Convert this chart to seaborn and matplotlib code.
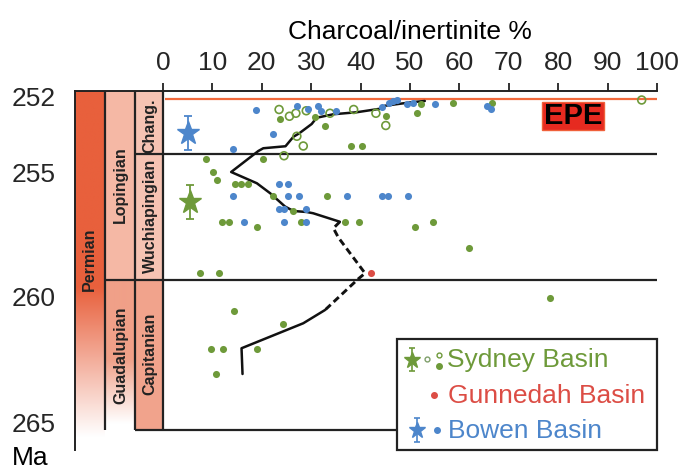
import numpy as np
import matplotlib
matplotlib.use("Agg")
import matplotlib.pyplot as plt
from matplotlib.patches import Rectangle
from matplotlib.colors import to_rgb
import seaborn as sns

# ---------------- data ----------------
x_ticks = [0, 10, 20, 30, 40, 50, 60, 70, 80, 90, 100]
age_major = [252, 255, 260, 265]
age_minor = [253, 254, 256, 257, 258, 259, 261, 262, 263, 264, 266]

sydney_pct = [23.6, 30.8, 32.7, 45.1, 51.5, 52.2, 58.8, 66.5, 38.1, 40.2,
              8.8, 20.2, 10.1, 10.9, 14.5, 15.8, 17.3, 22.2, 33.3, 26.4, 12.0,
              13.3, 19.0, 28.0, 36.8, 39.7, 51.0, 54.7, 62.0, 7.5, 11.3,
              14.4, 24.2, 9.7, 12.1, 19.1, 10.7, 78.3]
sydney_age = [252.87, 252.78, 253.17, 252.77, 252.65, 252.27, 252.25, 252.24, 253.97, 253.97,
              254.48, 254.48, 254.99, 255.30, 255.48, 255.48, 255.48, 255.97, 255.97, 256.57, 256.99,
              256.99, 257.21, 256.99, 256.99, 256.99, 257.21, 256.99, 258.03, 259.05, 259.05,
              260.56, 261.08, 262.08, 262.08, 262.08, 263.08, 260.05]

sydney_open_pct = [23.5, 25.6, 26.9, 29.0, 33.8, 38.6, 43.1, 45.1, 27.1, 28.4, 24.5, 96.9]
sydney_open_age = [252.50, 252.77, 252.65, 252.55, 252.65, 252.50, 252.65, 253.14, 253.57, 253.96, 254.35, 252.12]

bowen_pct = [18.8, 27.1, 29.4, 31.4, 32.0, 35.1, 44.4, 45.7, 46.6, 47.4, 49.3, 50.6, 55.1, 65.6, 66.3, 22.2, 14.2,
             23.4, 25.4, 14.1, 25.4, 27.6, 37.3, 44.3, 45.6, 49.5, 23.5, 24.4, 29.0, 16.3, 24.4, 29.0]
bowen_age = [252.52, 252.35, 252.46, 252.36, 252.55, 252.57, 252.39, 252.24, 252.14, 252.13, 252.26, 252.25, 252.27, 252.36, 252.48, 253.46, 254.06,
             255.48, 255.48, 255.97, 255.97, 255.97, 255.97, 255.97, 255.97, 255.97, 256.49, 256.49, 256.48, 256.99, 256.99, 256.99]

gunnedah_pct = [42.1]
gunnedah_age = [259.05]

sydney_mean_pct = [5.5]
sydney_mean_age = [256.19]
sydney_mean_err = [0.68]
bowen_mean_pct = [5.1]
bowen_mean_age = [253.45]
bowen_mean_err = [0.68]

mean_upper_pct = [53.0, 50.3, 44.9, 44.6, 39.2, 34.5, 31.1, 30.1, 27.6, 26.4, 24.8, 20.3, 19.3,
                  13.8, 19.0, 21.7, 24.7, 26.4, 29.1, 30.4, 35.8]
mean_upper_age = [252.16, 252.21, 252.35, 252.45, 252.61, 252.69, 252.83, 253.08, 253.45, 253.59, 253.97, 254.05, 254.16,
                  255.00, 255.45, 255.85, 256.38, 256.56, 256.60, 256.65, 256.99]
mean_dashed_pct = [35.8, 34.5, 35.5, 40.9, 39.5, 32.8]
mean_dashed_age = [256.99, 257.25, 257.62, 259.05, 259.28, 260.52]
mean_lower_pct = [32.8, 28.4, 15.9, 16.1]
mean_lower_age = [260.52, 261.05, 262.05, 263.08]

epe_age = 252.09
chang_base = 254.26
wuch_base = 259.32
column_base = 265.32
age_top = 251.76
age_bottom = 266.12

# ---------------- style ----------------
GREEN = "#6e9a3a"
BLUE = "#4d86cb"
RED = "#dc4d45"
DARK = "#222222"

sns.set_style("white")
plt.rcParams["font.family"] = ["Liberation Sans", "DejaVu Sans"]

W, H = 680, 471
fig = plt.figure(figsize=(W / 100, H / 100), dpi=100)
fig.patch.set_facecolor("white")
ax = fig.add_axes([75 / W, 1 - 450 / H, 582 / W, 359 / H])

X0, X1, X2 = -17.81, -11.74, -5.67   # stratigraphic column edges (x units)

# stratigraphic columns
def vgrad(c0, y_start, y_end, n=300):
    ys = np.linspace(age_top, age_bottom, n)
    t = np.clip((ys - y_start) / (y_end - y_start), 0, 1)
    c0 = np.array(to_rgb(c0))
    cols = c0[None, :] * (1 - t[:, None]) + np.ones(3)[None, :] * t[:, None]
    return cols[:, None, :]

ax.imshow(vgrad("#e8603c", 259.6, 265.6), extent=(X0, X1, age_bottom, age_top),
          origin="upper", aspect="auto", interpolation="bilinear", zorder=0)
ax.add_patch(Rectangle((X1, age_top), X2 - X1, wuch_base - age_top, color="#f5b8a5", lw=0, zorder=0))
ax.imshow(vgrad("#f0a088", wuch_base, 265.5), extent=(X1, X2, column_base, wuch_base),
          origin="upper", aspect="auto", interpolation="bilinear", zorder=0)
ax.add_patch(Rectangle((X2, age_top), -X2, wuch_base - age_top, color="#f6c3b3", lw=0, zorder=0))
ax.add_patch(Rectangle((X2, wuch_base), -X2, column_base - wuch_base, color="#f1a38c", lw=0, zorder=0))

lw_b = 1.6
ax.vlines([X1], age_top, column_base, color=DARK, lw=lw_b, zorder=2)
ax.vlines([X2, 0], age_top, column_base, color=DARK, lw=lw_b, zorder=2)
ax.hlines(chang_base, X2, 100, color=DARK, lw=lw_b, zorder=2)
ax.hlines(wuch_base, X1, 100, color=DARK, lw=lw_b, zorder=2)
ax.hlines(column_base, X2, 100, color=DARK, lw=lw_b, zorder=2)
ax.hlines(epe_age, 0.4, 100, color="#f26a3c", lw=1.6, zorder=2)

lab_kw = dict(rotation=90, ha="center", va="center", fontsize=11.5, fontweight="bold", color=DARK, zorder=3)
ax.text(-14.8, 258.48, "Permian", **lab_kw)
ax.text(-8.6, 255.52, "Lopingian", **lab_kw)
ax.text(-8.6, 262.32, "Guadalupian", **lab_kw)
ax.text(-2.6, 253.16, "Chang.", **lab_kw)
ax.text(-2.6, 256.75, "Wuchiapingian", **lab_kw)
ax.text(-2.6, 262.28, "Capitanian", **lab_kw)

# data
sns.lineplot(x=mean_upper_pct, y=mean_upper_age, sort=False, estimator=None,
             color="#111111", lw=1.8, ax=ax, zorder=4)
sns.lineplot(x=mean_dashed_pct, y=mean_dashed_age, sort=False, estimator=None,
             color="#111111", lw=2.1, linestyle=(0, (2.4, 1.4)), ax=ax, zorder=4)
sns.lineplot(x=mean_lower_pct, y=mean_lower_age, sort=False, estimator=None,
             color="#111111", lw=1.8, ax=ax, zorder=4)

sns.scatterplot(x=sydney_pct, y=sydney_age, color=GREEN, s=26, linewidth=0, ax=ax, zorder=5)
sns.scatterplot(x=sydney_open_pct, y=sydney_open_age, facecolor="none", edgecolor=GREEN,
                s=32, linewidth=1.2, ax=ax, zorder=5)
sns.scatterplot(x=bowen_pct, y=bowen_age, color=BLUE, s=26, linewidth=0, ax=ax, zorder=5)
sns.scatterplot(x=gunnedah_pct, y=gunnedah_age, color=RED, s=26, linewidth=0, ax=ax, zorder=5)

ax.errorbar(bowen_mean_pct, bowen_mean_age, yerr=bowen_mean_err, fmt="*", color=BLUE,
            markersize=17, capsize=3, elinewidth=1.3, capthick=1.3, zorder=6)
ax.errorbar(sydney_mean_pct, sydney_mean_age, yerr=sydney_mean_err, fmt="*", color=GREEN,
            markersize=17, capsize=3, elinewidth=1.3, capthick=1.3, zorder=6)

# EPE label
ax.add_patch(Rectangle((76.7, 252.2), 12.55, 1.12, facecolor="#e62a20", edgecolor="#f0603a", lw=1, zorder=6))
ax.text(83.0, 252.78, "EPE", ha="center", va="center", fontsize=21, fontweight="bold", color="black", zorder=7)

# axes
ax.set_xlim(X0, 100)
ax.set_ylim(age_bottom, age_top)
ax.set_xticks(x_ticks)
ax.set_yticks(age_major)
ax.set_yticks(age_minor, minor=True)
ax.xaxis.tick_top()
ax.xaxis.set_label_position("top")
ax.set_xlabel("Charcoal/inertinite %", fontsize=19, color="black")
ax.xaxis.set_label_coords(0.5756, 1.1457)
for s in ["right", "bottom"]:
    ax.spines[s].set_visible(False)
for s in ["top", "left"]:
    ax.spines[s].set_color(DARK)
    ax.spines[s].set_linewidth(1.4)
ax.tick_params(axis="x", which="major", direction="out", length=6, width=1.3, color=DARK,
               labelsize=19, pad=5.5, top=True, bottom=False, labeltop=True, labelbottom=False)
ax.tick_params(axis="y", which="both", direction="out", length=6, width=1.3, color=DARK,
               labelsize=19, pad=8)
ax.set_facecolor("white")
ax.grid(False)

# overlay in pixel coordinates for legend and "Ma"
lax = fig.add_axes([0, 0, 1, 1], zorder=10)
lax.set_xlim(0, W)
lax.set_ylim(H, 0)
lax.axis("off")
lax.patch.set_alpha(0)
lax.text(30.5, 465, "Ma", ha="center", va="baseline", fontsize=19, color="black")

lax.add_patch(Rectangle((397, 339), 260, 111, facecolor="white", edgecolor=DARK, lw=1.6))
lax.errorbar([412], [360], yerr=[[12], [11]], fmt="*", color=GREEN, markersize=12,
             capsize=2.5, elinewidth=1.2, capthick=1.2)
lax.plot([427], [359], "o", ms=3.5, mfc="none", mec="#7f9f6a", mew=1)
lax.plot([439], [355], "o", ms=3.5, mfc="none", mec=GREEN, mew=1)
lax.plot([439], [366], "o", ms=4, color=GREEN)
lax.plot([434], [395], "o", ms=4, color=RED)
lax.errorbar([417], [430], yerr=[[12], [12]], fmt="*", color=BLUE, markersize=12,
             capsize=2.5, elinewidth=1.2, capthick=1.2)
lax.plot([437], [430], "o", ms=4, color=BLUE)
lax.text(447, 367, "Sydney Basin", fontsize=19, color=GREEN, ha="left", va="baseline")
lax.text(448, 403, "Gunnedah Basin", fontsize=19, color=RED, ha="left", va="baseline")
lax.text(448, 438, "Bowen Basin", fontsize=19, color=BLUE, ha="left", va="baseline")

fig.savefig("out.png", dpi=100, facecolor="white")
